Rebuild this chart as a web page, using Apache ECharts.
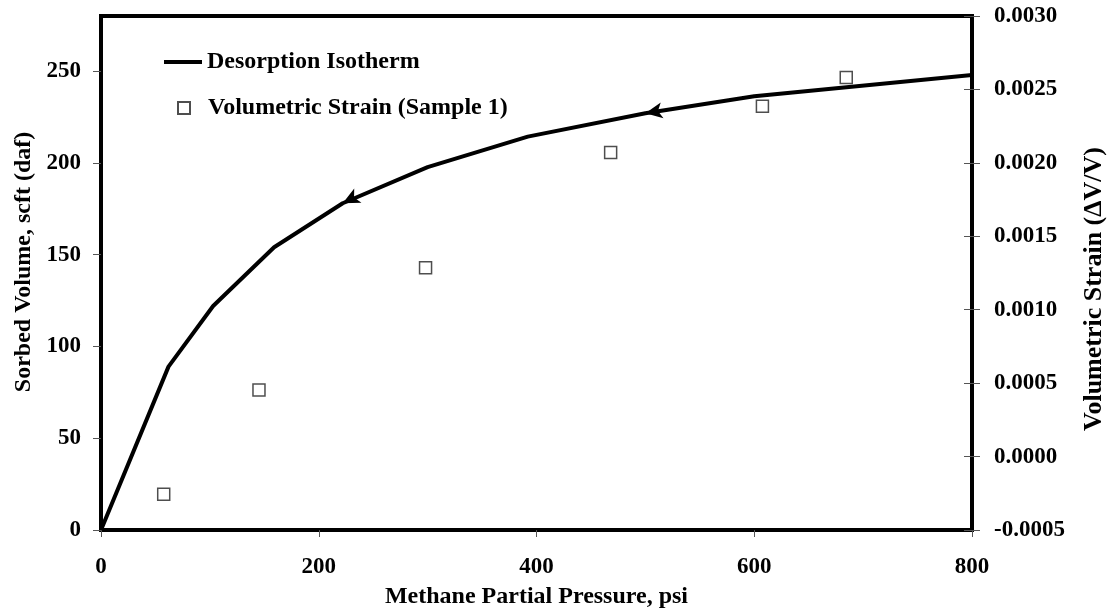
<!DOCTYPE html>
<html>
<head>
<meta charset="utf-8">
<script src="https://cdn.jsdelivr.net/npm/echarts@6/dist/echarts.min.js"></script>
<style>html,body{margin:0;padding:0;background:#fff}#c{width:1115px;height:614px}</style>
</head>
<body>
<div id="c"></div>
<script>
// Desorption isotherm (left axis)
const pressure = [0, 62, 103, 159, 222, 300, 392, 500, 600, 800];
const sorbed   = [0, 89, 122, 154, 178, 197.7, 214.3, 227, 236.3, 247.8];
const arrowAt  = [4, 7];          // indices of points carrying direction arrows
const arrowRot = [117, 100];      // arrow orientation (deg)
// Volumetric strain, sample 1 (right axis)
const strainP  = [57.6, 145.1, 298.1, 468.1, 607.5, 684.5];
const strain   = [-0.000256, 0.000453, 0.001286, 0.00207, 0.002386, 0.002582];
// tick labels
const xTicks = [0, 200, 400, 600, 800];
const leftTicks = [0, 50, 100, 150, 200, 250];
const rightTicks = [-0.0005, 0, 0.0005, 0.001, 0.0015, 0.002, 0.0025, 0.003];

const FONT = 'Liberation Serif';
const lineData = pressure.map((p, i) => {
  const k = arrowAt.indexOf(i);
  if (k < 0) return [p, sorbed[i]];
  return { value: [p, sorbed[i]], symbol: 'arrow', symbolSize: [12, 17], symbolRotate: arrowRot[k],
           itemStyle: { color: '#000' } };
});
const strainData = strainP.map((p, i) => [p, strain[i]]);

const chart = echarts.init(document.getElementById('c'), null, { renderer: 'canvas' });
const labelStyle = { fontFamily: FONT, fontWeight: 'bold', fontSize: 23, color: '#000' };
const titleStyle = { fontFamily: FONT, fontWeight: 'bold', fontSize: 24, color: '#000' };
const legendText = { fontFamily: FONT, fontWeight: 'bold', fontSize: 24, color: '#000', lineHeight: 26 };
chart.setOption({
  animation: false,
  grid: { left: 101, right: 131, top: 16, bottom: 81, show: true, borderColor: '#000', borderWidth: 4, containLabel: false },
  legend: [
    {
      orient: 'vertical', left: 159, top: 44, itemWidth: 38, itemHeight: 4,
      textStyle: legendText,
      data: [{ name: 'Desorption Isotherm', icon: 'rect', itemStyle: { color: '#000' } }]
    },
    {
      orient: 'vertical', left: 172, top: 90, itemWidth: 12, itemHeight: 12,
      textStyle: Object.assign({ padding: [0, 0, 0, 13] }, legendText),
      data: [{ name: 'Volumetric Strain (Sample 1)', icon: 'rect' }]
    }
  ],
  xAxis: {
    type: 'value', min: 0, max: 800, interval: 200,
    name: 'Methane Partial Pressure, psi', nameLocation: 'middle', nameGap: 55,
    nameTextStyle: titleStyle,
    axisLine: { show: true, lineStyle: { color: '#000', width: 4 } },
    axisTick: { show: true, inside: false, length: 7, lineStyle: { color: '#555', width: 1 } },
    axisLabel: Object.assign({ margin: 26, customValues: xTicks }, labelStyle),
    splitLine: { show: false }
  },
  yAxis: [
    {
      type: 'value', min: 0, max: 280, position: 'left',
      name: 'Sorbed Volume, scft (daf)', nameLocation: 'middle', nameRotate: 90, nameGap: 64,
      nameTextStyle: Object.assign({ padding: [0, 0, 0, 22] }, titleStyle),
      axisLine: { show: true, lineStyle: { color: '#000', width: 4 } },
      axisTick: { show: true, inside: false, length: 8, customValues: leftTicks, lineStyle: { color: '#555', width: 1 } },
      axisLabel: Object.assign({ margin: 20, customValues: leftTicks }, labelStyle),
      splitLine: { show: false }
    },
    {
      type: 'value', min: -0.0005, max: 0.003, interval: 0.0005, position: 'right',
      name: 'Volumetric Strain (\u0394V/V)', nameLocation: 'middle', nameRotate: 90, nameGap: 109,
      nameTextStyle: Object.assign({ padding: [0, 32, 0, 0] }, titleStyle, { fontSize: 26 }),
      axisLine: { show: true, lineStyle: { color: '#000', width: 4 } },
      axisTick: { show: true, inside: false, length: 8, customValues: rightTicks, lineStyle: { color: '#555', width: 1 } },
      axisLabel: Object.assign({ margin: 22, customValues: rightTicks, formatter: v => v.toFixed(4) }, labelStyle),
      splitLine: { show: false }
    },
    {
      type: 'value', min: -0.0005, max: 0.003, interval: 0.0005, position: 'right',
      axisLine: { show: false },
      axisTick: { show: true, inside: true, length: 8, customValues: rightTicks, lineStyle: { color: '#555', width: 1 } },
      axisLabel: { show: false },
      splitLine: { show: false }
    }
  ],
  series: [
    {
      name: 'Desorption Isotherm', type: 'line', yAxisIndex: 0, data: lineData,
      symbol: 'none', showSymbol: true, smooth: false,
      lineStyle: { color: '#000', width: 4 }, itemStyle: { color: '#000' }, z: 3
    },
    {
      name: 'Volumetric Strain (Sample 1)', type: 'scatter', yAxisIndex: 1, data: strainData,
      symbol: 'rect', symbolSize: 12,
      itemStyle: { color: '#fff', borderColor: '#222', borderWidth: 1.5 }, z: 4
    }
  ]
});
</script>
</body>
</html>
